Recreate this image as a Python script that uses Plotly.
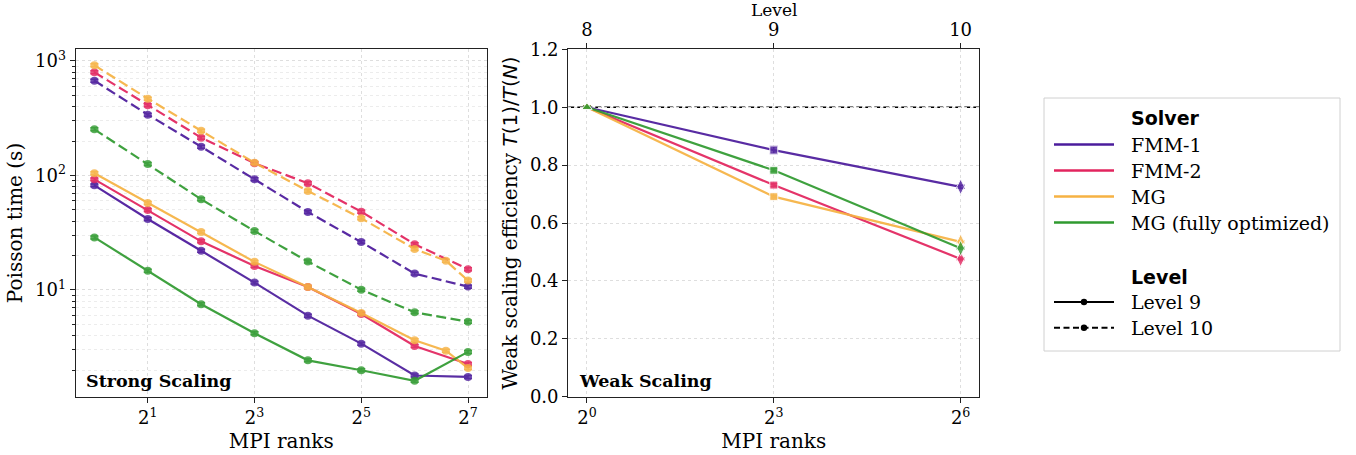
import plotly.graph_objects as go

# ---------------- data ----------------
solvers = ["FMM-1", "FMM-2", "MG", "MG (fully optimized)"]
colors = ["#4b1c9c", "#e2245e", "#f6b243", "#2f9a2f"]

ranks = [1, 2, 4, 8, 16, 32, 64, 128]
ranks_mg = [1, 2, 4, 8, 16, 32, 64, 96, 128]

# strong scaling: Poisson time (s), level 9
fmm1_l9 = [82, 41.7, 22.0, 11.6, 5.97, 3.40, 1.79, 1.74]
fmm2_l9 = [92.5, 50.0, 26.6, 16.2, 10.6, 6.17, 3.24, 2.26]
mg_l9 = [104.5, 57.5, 32.1, 17.6, 10.6, 6.29, 3.64, 2.95, 2.08]
mgopt_l9 = [28.8, 14.7, 7.50, 4.19, 2.43, 1.99, 1.61, 2.88]

# strong scaling: Poisson time (s), level 10
fmm1_l10 = [673, 340, 178.6, 92.7, 48.0, 26.2, 13.9, 10.7]
fmm2_l10 = [796, 410, 214, 128, 85.5, 48.3, 25.1, 15.2]
mg_l10 = [917, 469, 246, 129, 73.3, 42.3, 22.8, 18.0, 12.1]
mgopt_l10 = [253, 126, 62.0, 32.7, 17.7, 10.07, 6.38, 5.29]

strong_l9 = [(ranks, fmm1_l9), (ranks, fmm2_l9), (ranks_mg, mg_l9), (ranks, mgopt_l9)]
strong_l10 = [(ranks, fmm1_l10), (ranks, fmm2_l10), (ranks_mg, mg_l10), (ranks, mgopt_l10)]

# weak scaling efficiency T(1)/T(N)
weak_ranks = [1, 8, 64]
weak_levels = ["8", "9", "10"]
weak_eff = [
    [1.0, 0.852, 0.725],
    [1.0, 0.731, 0.476],
    [1.0, 0.691, 0.535],
    [1.0, 0.782, 0.513],
]
weak_err = [
    [0.004, 0.012, 0.005],
    [0.003, 0.005, 0.003],
    [0.003, 0.005, 0.003],
    [0.003, 0.005, 0.003],
]
level_symbols = ["triangle-up", "square", "diamond-tall"]

strong_xticks = [2, 8, 32, 128]
strong_xtext = ["2<sup>1</sup>", "2<sup>3</sup>", "2<sup>5</sup>", "2<sup>7</sup>"]
strong_yticks = [10, 100, 1000]
strong_ytext = ["10<sup>1</sup>", "10<sup>2</sup>", "10<sup>3</sup>"]
strong_yminor = [m * d for d in (1, 10, 100, 1000) for m in range(2, 10)]
weak_xtext = ["2<sup>0</sup>", "2<sup>3</sup>", "2<sup>6</sup>"]
weak_yticks = [0.0, 0.2, 0.4, 0.6, 0.8, 1.0, 1.2]

# ---------------- figure ----------------
W, H = 1356, 455
SERIF = "DejaVu Serif"
TFS = 18   # tick labels
AFS = 16.4  # axis titles (inherited from layout font)
LFS = 19   # legend


def px(x):
    return x / W


def py(y):
    return 1 - y / H


fig = go.Figure()

for i, name in enumerate(solvers):
    for (xs, ys), dash in ((strong_l9[i], "solid"), (strong_l10[i], "10px,4.5px")):
        fig.add_trace(go.Scatter(
            x=xs, y=ys, mode="lines+markers", name=name, showlegend=False,
            line=dict(color=colors[i], width=2.2, dash=dash),
            marker=dict(symbol="circle", size=8, color=colors[i], opacity=0.85),
            error_y=dict(type="percent", value=3, color=colors[i], thickness=1.5, width=4),
            opacity=0.92, xaxis="x", yaxis="y",
        ))

for i, name in enumerate(solvers):
    fig.add_trace(go.Scatter(
        x=weak_ranks, y=weak_eff[i], mode="lines+markers", name=name, showlegend=False,
        line=dict(color=colors[i], width=2.2),
        marker=dict(symbol=level_symbols, size=[9, 8, 11], color=colors[i], opacity=0.85),
        error_y=dict(type="data", array=weak_err[i], color=colors[i], thickness=1.5, width=4),
        opacity=0.92, xaxis="x2", yaxis="y2",
    ))

# carrier trace for the top "Level" axis
fig.add_trace(go.Scatter(x=weak_ranks, y=[None] * 3, mode="markers", showlegend=False,
                         hoverinfo="skip", xaxis="x3", yaxis="y2"))

grid = dict(showgrid=True, gridcolor="#dedede", griddash="dot", gridwidth=1)
frame = dict(showline=True, linecolor="#222222", linewidth=1.3, mirror=True,
             ticks="outside", ticklen=5, tickwidth=1.1, tickcolor="#222222",
             tickfont=dict(family=SERIF, size=TFS, color="black"), zeroline=False,
             automargin=False)

ydom = [py(396.7), py(49.3)]
LOG2 = 0.30103

fig.update_layout(
    width=W, height=H, margin=dict(l=0, r=0, t=0, b=0, autoexpand=False),
    paper_bgcolor="white", plot_bgcolor="white",
    font=dict(family=SERIF, size=AFS, color="black"),
    xaxis=dict(domain=[px(75.7), px(486.7)], type="log", anchor="y",
               range=[-0.35 * LOG2, 7.35 * LOG2],
               tickmode="array", tickvals=strong_xticks, ticktext=strong_xtext,
               title=dict(text="MPI ranks", standoff=6), **grid, **frame),
    yaxis=dict(domain=ydom, type="log", anchor="x", range=[0.068, 3.102],
               tickmode="array", tickvals=strong_yticks, ticktext=strong_ytext,
               minor=dict(tickmode="array", tickvals=strong_yminor, ticks="outside",
                          ticklen=3, tickcolor="#222222", showgrid=True,
                          gridcolor="#ececec", griddash="dot"),
               title=dict(text="Poisson time (s)", standoff=7), **grid, **frame),
    xaxis2=dict(domain=[px(568.3), px(979.3)], type="log", anchor="y2",
                range=[-0.3 * LOG2, 6.3 * LOG2],
                tickmode="array", tickvals=weak_ranks, ticktext=weak_xtext,
                title=dict(text="MPI ranks", standoff=6), **grid, **frame),
    xaxis3=dict(type="log", overlaying="x2", side="top", anchor="y2",
                range=[-0.3 * LOG2, 6.3 * LOG2], automargin=False,
                tickmode="array", tickvals=weak_ranks, ticktext=weak_levels,
                showgrid=False, showline=False, ticks="outside", ticklen=5,
                tickwidth=1.1, tickcolor="#222222",
                tickfont=dict(family=SERIF, size=TFS, color="black")),
    yaxis2=dict(domain=ydom, anchor="x2", range=[0, 1.2],
                tickmode="array", tickvals=weak_yticks, tickformat=".1f",
                title=dict(text="Weak scaling efficiency "
                                "<span style='font-family:DejaVu Sans'>"
                                "<i>T</i>(1)/<i>T</i>(<i>N</i>)</span>", standoff=6),
                **grid, **frame),
)

# title of the top (level) axis
fig.add_annotation(text="Level", xref="x2 domain", yref="paper", x=0.5, y=py(10),
                   xanchor="center", yanchor="middle", showarrow=False,
                   font=dict(family=SERIF, size=17, color="black"))

# ideal efficiency reference
fig.add_shape(type="line", xref="x2 domain", yref="y2", x0=0, x1=1, y0=1, y1=1,
              line=dict(color="black", width=1.5, dash="6px,3px"), layer="below")

# panel labels
fig.add_annotation(text="<b>Strong Scaling</b>", xref="x domain", yref="y domain",
                   x=0.02, y=0.012, xanchor="left", yanchor="bottom", showarrow=False,
                   font=dict(family=SERIF, size=17.5, color="black"))
fig.add_annotation(text="<b>Weak Scaling</b>", xref="x2 domain", yref="y2 domain",
                   x=0.02, y=0.012, xanchor="left", yanchor="bottom", showarrow=False,
                   font=dict(family=SERIF, size=17.5, color="black"))

# ---------------- legend ----------------
fig.add_shape(type="rect", xref="paper", yref="paper",
              x0=px(1044), x1=px(1340), y0=py(351), y1=py(98),
              line=dict(color="#d0d0d0", width=1), fillcolor="white")

lx0, lx1, tx = 1054, 1114, 1129
fig.add_annotation(text="<b>Solver</b>", xref="paper", yref="paper", x=px(tx), y=py(118),
                   xanchor="left", yanchor="middle", showarrow=False,
                   font=dict(family="DejaVu Sans", size=LFS, color="black"))
for i, name in enumerate(solvers):
    yy = 144.5 + 26 * i
    fig.add_shape(type="line", xref="paper", yref="paper", x0=px(lx0), x1=px(lx1),
                  y0=py(yy), y1=py(yy), line=dict(color=colors[i], width=2.5))
    fig.add_annotation(text=name, xref="paper", yref="paper", x=px(tx), y=py(yy),
                       xanchor="left", yanchor="middle", showarrow=False,
                       font=dict(family=SERIF, size=LFS, color="black"))

fig.add_annotation(text="<b>Level</b>", xref="paper", yref="paper", x=px(tx), y=py(277),
                   xanchor="left", yanchor="middle", showarrow=False,
                   font=dict(family="DejaVu Sans", size=LFS, color="black"))
for j, (lab, dash) in enumerate((("Level 9", "solid"), ("Level 10", "6px,3.5px"))):
    yy = 302 + 25.7 * j
    fig.add_shape(type="line", xref="paper", yref="paper", x0=px(lx0), x1=px(lx1),
                  y0=py(yy), y1=py(yy), line=dict(color="black", width=2, dash=dash))
    fig.add_shape(type="circle", xref="paper", yref="paper",
                  x0=px(1084 - 3.2), x1=px(1084 + 3.2), y0=py(yy + 3.2), y1=py(yy - 3.2),
                  line=dict(color="black", width=0), fillcolor="black")
    fig.add_annotation(text=lab, xref="paper", yref="paper", x=px(tx), y=py(yy),
                       xanchor="left", yanchor="middle", showarrow=False,
                       font=dict(family=SERIF, size=LFS, color="black"))

fig.write_html("out.html")
